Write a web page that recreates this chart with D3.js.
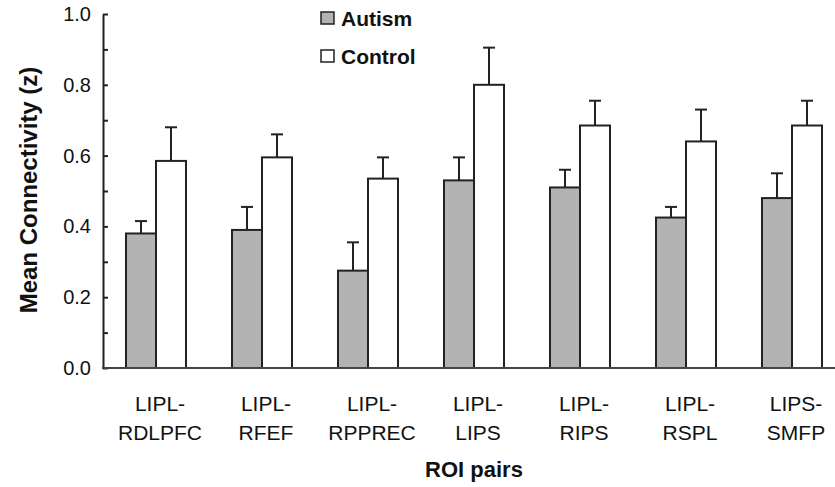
<!DOCTYPE html>
<html>
<head>
<meta charset="utf-8">
<script src="https://d3js.org/d3.v7.min.js"></script>
<style>
  body { margin: 0; background: #fff; }
  svg { display: block; font-family: Arial, "Liberation Sans", sans-serif; }
</style>
</head>
<body>
<div id="chart"></div>
<script>
// ROI pairs, two-line labels
const pairs = ['LIPL-RDLPFC', 'LIPL-RFEF', 'LIPL-RPPREC', 'LIPL-LIPS', 'LIPL-RIPS', 'LIPL-RSPL', 'LIPS-SMFP'];
const labelTop = ['LIPL-', 'LIPL-', 'LIPL-', 'LIPL-', 'LIPL-', 'LIPL-', 'LIPS-'];
const labelBottom = ['RDLPFC', 'RFEF', 'RPPREC', 'LIPS', 'RIPS', 'RSPL', 'SMFP'];
const groups = ['Autism', 'Control'];

const autismMean = [0.38, 0.39, 0.275, 0.53, 0.51, 0.425, 0.48];
const autismErr = [0.035, 0.065, 0.08, 0.065, 0.05, 0.03, 0.07];
const controlMean = [0.585, 0.595, 0.535, 0.80, 0.685, 0.64, 0.685];
const controlErr = [0.095, 0.065, 0.06, 0.105, 0.07, 0.09, 0.07];

const yTicks = [0, 0.2, 0.4, 0.6, 0.8, 1.0];
const yMinorTicks = [0.1, 0.3, 0.5, 0.7, 0.9];

const W = 835, H = 487;
const ink = '#222';

const svg = d3.select('#chart').append('svg')
  .attr('width', W).attr('height', H);

const x = d3.scaleBand().domain(pairs).range([103, 845]).paddingInner(0.434).paddingOuter(0.217);
const xs = d3.scaleBand().domain(groups).range([0, x.bandwidth()]);
const y = d3.scaleLinear().domain([0, 1]).range([368, 14]);
const fill = d3.scaleOrdinal().domain(groups).range(['#b3b3b3', '#fff']);

const rows = pairs.map((p, i) => ({
  pair: p,
  values: [
    { key: 'Autism', mean: autismMean[i], err: autismErr[i] },
    { key: 'Control', mean: controlMean[i], err: controlErr[i] }
  ]
}));

// bars
const gGroups = svg.append('g').selectAll('g').data(rows).join('g')
  .attr('transform', d => `translate(${x(d.pair)},0)`);

gGroups.selectAll('rect').data(d => d.values).join('rect')
  .attr('x', d => xs(d.key))
  .attr('y', d => y(d.mean))
  .attr('width', xs.bandwidth())
  .attr('height', d => y(0) - y(d.mean))
  .attr('fill', d => fill(d.key))
  .attr('stroke', ink).attr('stroke-width', 2);

// error bars (upper only)
const eb = gGroups.selectAll('g.err').data(d => d.values).join('g').attr('class', 'err');
eb.append('line')
  .attr('x1', d => xs(d.key) + xs.bandwidth() / 2).attr('x2', d => xs(d.key) + xs.bandwidth() / 2)
  .attr('y1', d => y(d.mean)).attr('y2', d => y(d.mean + d.err))
  .attr('stroke', ink).attr('stroke-width', 2);
eb.append('line')
  .attr('x1', d => xs(d.key) + xs.bandwidth() / 2 - 6).attr('x2', d => xs(d.key) + xs.bandwidth() / 2 + 6)
  .attr('y1', d => y(d.mean + d.err)).attr('y2', d => y(d.mean + d.err))
  .attr('stroke', ink).attr('stroke-width', 2);

// y axis
const yAxisG = svg.append('g').attr('transform', 'translate(103,0)')
  .call(d3.axisLeft(y).tickValues(yTicks).tickFormat(d3.format('.1f'))
    .tickSizeInner(-5).tickSizeOuter(0).tickPadding(12));
yAxisG.select('.domain').attr('stroke', ink).attr('stroke-width', 2);
yAxisG.selectAll('.tick line').attr('stroke', ink).attr('stroke-width', 2);
yAxisG.selectAll('.tick text').attr('font-size', 20).attr('fill', '#111');

svg.append('g').attr('transform', 'translate(103,0)')
  .call(d3.axisLeft(y).tickValues(yMinorTicks).tickFormat('').tickSizeInner(-5).tickSizeOuter(0))
  .call(g => g.select('.domain').remove())
  .selectAll('.tick line').attr('stroke', ink).attr('stroke-width', 2);

// x axis baseline
svg.append('line')
  .attr('x1', 102).attr('x2', W).attr('y1', y(0)).attr('y2', y(0))
  .attr('stroke', '#444').attr('stroke-width', 2);

// x labels
const labelX = d => x(d) + x.bandwidth() / 2 + 4;
const xl = svg.append('g').selectAll('text').data(pairs).join('text')
  .attr('text-anchor', 'middle').attr('font-size', 21).attr('fill', '#111');
xl.append('tspan').attr('x', labelX).attr('y', 411).text((d, i) => labelTop[i]);
xl.append('tspan').attr('x', labelX).attr('y', 440).text((d, i) => labelBottom[i]);

// axis titles
svg.append('text')
  .attr('x', (x(pairs[0]) + x(pairs[pairs.length - 1]) + x.bandwidth()) / 2).attr('y', 477)
  .attr('text-anchor', 'middle').attr('font-size', 22).attr('font-weight', 'bold').attr('fill', '#111')
  .text('ROI pairs');

svg.append('text')
  .attr('transform', 'translate(37,190) rotate(-90)')
  .attr('text-anchor', 'middle').attr('font-size', 24).attr('font-weight', 'bold').attr('fill', '#111')
  .text('Mean Connectivity (z)');

// legend
const legend = svg.append('g').selectAll('g').data(groups).join('g')
  .attr('transform', (d, i) => `translate(321,${12 + i * 38})`);
legend.append('rect')
  .attr('width', 13).attr('height', 12)
  .attr('fill', d => fill(d)).attr('stroke', ink).attr('stroke-width', 1.5);
legend.append('text')
  .attr('x', 20).attr('y', 14)
  .attr('font-size', 21).attr('font-weight', 'bold').attr('fill', '#111')
  .text(d => d);
</script>
</body>
</html>
